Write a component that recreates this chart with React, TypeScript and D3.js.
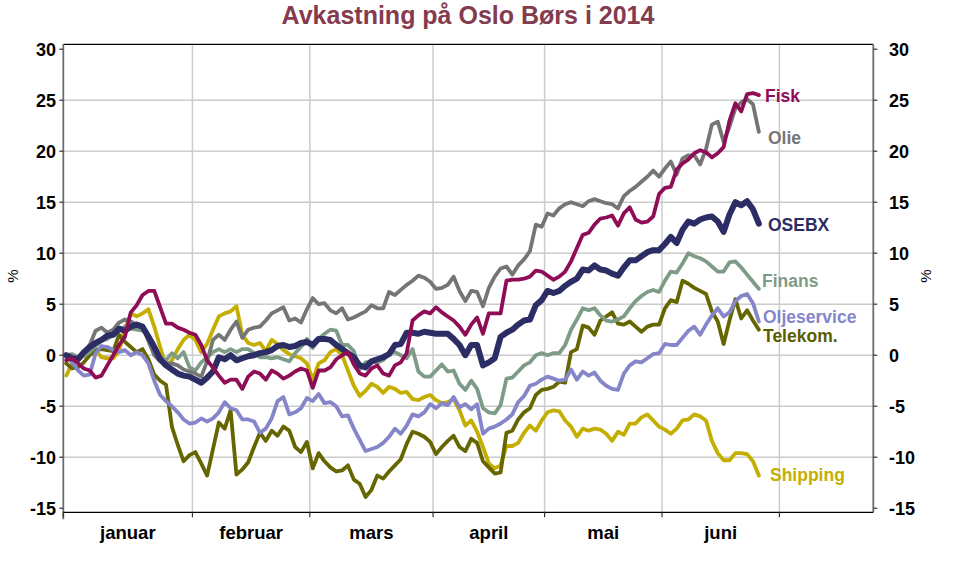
import React from 'react';
import * as d3 from 'd3';

// ---------- data ----------
const months = ['januar', 'februar', 'mars', 'april', 'mai', 'juni'];
const monthStarts = [0, 22, 42, 63, 82, 102, 122]; // trading-day index where each month starts
const totalSlots = 138;
const yTicks = [-15, -10, -5, 0, 5, 10, 15, 20, 25, 30];
const yGrid = [-10, -5, 0, 5, 10, 15, 20, 25];

const osebx = [0,-0.3,-0.4,0.3,0.8,1.2,1.5,1.9,2.0,2.6, 2.4,2.8,3.0,2.8,1.8,0.8,-0.4,-1.0,-1.4,-1.8, -2.0,-2.1,-2.4,-2.7,-2.2,-1.6,-0.2,-0.4,0.0,-0.5, -0.3,-0.1,0.0,0.2,0.3,0.5,0.9,1.0,0.8,0.9, 1.2,1.3,1.0,1.6,1.6,1.5,1.0,0.6,0.2,-0.2, -1.0,-1.2,-0.6,-0.4,-0.2,0.1,1.0,1.1,2.2,2.2, 2.1,2.3,2.2,2.1,2.1,2.1,1.6,1.0,0.0,1.0, 1.0,-1.0,-0.7,-0.3,1.8,2.2,2.5,3.0,3.4,3.5, 4.9,5.4,6.3,6.1,6.3,6.8,7.2,7.5,8.4,8.3, 8.8,8.4,8.3,8.0,7.8,8.6,9.3,9.3,9.7,10.1, 10.3,10.3,10.9,11.6,11.0,12.3,13.1,12.9,13.3,13.5, 13.6,13.1,12.1,13.8,15.0,14.7,15.1,14.3,12.9];
const fisk = [-0.5,-0.3,-0.8,-1.3,-1.5,-2.2,-2.0,-1.0,0.0,1.0, 1.8,4.2,4.9,5.9,6.3,6.3,4.7,3.1,3.1,2.7, 2.5,2.2,2.0,1.0,-0.5,-1.2,-2.0,-2.7,-2.4,-2.4, -3.3,-2.1,-1.6,-1.8,-2.4,-1.5,-1.8,-2.3,-2.0,-1.6, -1.3,-1.5,-3.2,-1.5,-1.5,-1.2,-0.4,0.0,0.3,-0.9, -1.8,-2.0,-1.3,-1.0,-1.8,-2.0,-1.0,-0.7,0.2,3.4, 3.9,4.3,4.1,4.7,4.2,3.8,3.4,2.8,2.0,3.0, 3.7,2.1,4.1,4.1,4.1,7.3,7.4,7.4,7.5,7.7, 8.3,8.2,7.8,7.4,7.7,8.2,9.2,10.5,11.8,12.0, 12.8,13.4,13.5,13.7,12.7,13.9,14.5,13.3,13.0,13.1, 13.6,15.8,16.4,16.5,18.2,18.8,19.2,19.8,20.1,19.9, 19.4,19.8,20.4,23.0,24.7,23.9,25.6,25.7,25.5];
const olie = [0,-0.3,-0.2,0.3,1.0,2.4,2.7,2.2,2.5,3.2, 3.5,3.3,3.0,2.8,1.4,0.0,-0.6,-0.8,-0.8,-1.0, -1.4,-1.6,-1.8,-2.1,-0.6,1.5,2.0,1.5,2.5,3.3, 1.7,2.5,2.7,2.8,3.4,4.1,4.4,4.7,3.4,3.6, 3.2,4.5,5.6,5.0,5.1,4.4,4.1,4.6,3.5,3.7, 4.0,4.3,4.9,4.6,4.6,6.2,5.9,6.4,6.9,7.3, 7.8,7.6,7.2,6.5,6.6,6.9,7.7,6.3,5.3,6.3, 6.2,4.8,6.6,7.7,8.5,8.7,7.9,8.8,9.4,10.2, 12.8,12.6,13.9,13.7,14.4,14.8,15.0,14.8,14.6,15.1, 15.3,15.1,14.9,14.8,14.4,15.6,16.1,16.5,17.0,17.5, 18.1,17.5,18.3,19.0,17.7,19.3,19.6,19.6,18.7,20.2, 22.6,22.9,20.9,22.4,24.2,24.8,25.1,24.6,21.9];
const finans = [0,0.1,-0.2,-0.1,0.3,0.9,1.4,1.6,2.0,2.4, 2.8,2.6,2.5,2.4,2.0,1.0,-0.2,-0.5,0.2,-0.3, 0.3,-1.2,-1.5,-0.7,-0.2,0.3,0.6,0.3,0.6,0.3, 0.6,0.6,0.2,-0.2,-0.2,-0.3,-0.2,-0.4,-0.6,0.2, 0.8,1.6,0.7,1.6,2.1,2.5,2.4,1.0,1.0,0.4, -1.4,-0.7,-0.6,-0.7,-0.5,0.2,0.3,0.0,-0.3,0.6, -1.6,-2.1,-2.1,-1.5,-0.9,-1.6,-1.5,-2.8,-3.4,-2.5, -3.3,-5.2,-5.6,-5.7,-4.9,-2.3,-2.2,-1.6,-1.0,-0.7, 0.0,0.2,0.0,0.2,0.2,1.0,2.5,3.5,4.6,4.4, 4.6,3.9,3.4,3.3,3.5,3.8,4.6,5.3,5.8,6.2, 6.4,6.2,7.3,8.2,8.1,9.0,10.0,9.7,9.5,9.2, 8.7,8.2,8.2,9.1,9.2,8.6,7.9,7.2,6.5];
const oljeservice = [-0.2,-0.7,-1.5,-2.0,-1.9,0.2,0.9,0.8,0.5,0.3, 0.5,0.0,0.3,0.0,-0.8,-2.5,-3.9,-4.5,-5.0,-5.6, -6.3,-6.7,-6.6,-6.2,-6.5,-6.2,-5.6,-4.6,-5.2,-5.4, -6.3,-6.3,-6.5,-7.6,-7.2,-6.2,-4.5,-4.1,-5.8,-5.6, -5.2,-4.2,-4.5,-3.8,-4.7,-4.6,-5.0,-6.0,-5.9,-7.2, -8.3,-9.4,-9.2,-9.0,-8.6,-8.0,-7.2,-7.7,-6.9,-5.8, -6.0,-5.6,-4.8,-5.2,-4.7,-4.9,-4.1,-5.1,-4.8,-5.3, -4.8,-7.7,-7.2,-7.0,-6.7,-6.3,-5.8,-4.6,-4.0,-3.0, -2.8,-2.4,-2.1,-2.3,-2.5,-2.4,-1.4,-2.4,-1.6,-2.0, -1.7,-2.5,-3.0,-3.3,-3.4,-1.8,-1.0,-0.6,-0.7,-0.3, 0.1,0.2,1.1,1.0,1.0,1.7,2.4,2.8,2.0,3.0, 3.9,4.6,3.8,4.2,5.3,5.8,6.0,5.1,3.3];
const telekom = [-0.8,-1.3,-1.2,-0.7,0.0,0.5,0.6,0.5,0.4,2.0, 1.3,0.8,0.3,0.6,-0.4,-1.9,-2.5,-2.9,-7.0,-8.8, -10.4,-9.8,-9.5,-10.6,-11.8,-9.2,-6.6,-7.2,-5.4,-11.7, -11.2,-10.5,-9.0,-7.6,-8.4,-7.4,-7.9,-7.0,-7.4,-9.0, -9.5,-8.5,-11.1,-9.6,-10.4,-11.0,-11.4,-11.3,-10.8,-12.2, -12.6,-13.9,-13.2,-11.8,-12.1,-11.4,-10.8,-10.2,-8.7,-7.5, -7.7,-8.0,-8.5,-9.7,-9.0,-8.4,-7.9,-9.0,-9.4,-8.2, -8.6,-10.4,-11.0,-11.6,-11.5,-7.6,-7.4,-6.3,-5.6,-5.2, -3.9,-3.4,-3.3,-3.1,-2.6,-2.7,0.3,0.6,2.9,2.7, 2.0,3.4,3.8,4.2,3.1,3.0,3.3,2.8,2.3,2.8, 3.0,3.0,4.6,5.4,5.2,7.3,7.0,6.6,6.3,6.0, 4.3,3.3,1.1,3.4,5.5,3.6,4.4,3.4,2.5];
const shipping = [-2.0,-0.8,-0.5,0.0,1.0,0.5,-0.2,-0.3,-0.3,0.4, 2.6,4.1,3.8,4.1,4.5,2.8,0.8,-1.1,-0.5,0.6, 1.5,2.0,1.5,0.3,1.1,2.5,3.8,4.1,4.3,4.8, 2.0,1.2,1.0,1.2,0.4,1.5,1.1,0.5,0.1,-0.1, -0.3,-0.8,-2.4,-0.8,-0.5,0.3,0.6,0.0,-1.5,-3.0, -4.0,-3.5,-2.8,-3.1,-3.7,-3.1,-3.3,-3.7,-3.6,-4.3, -4.4,-4.1,-3.9,-4.4,-4.7,-4.6,-4.3,-5.4,-6.9,-6.4, -7.5,-9.0,-10.6,-11.1,-10.8,-8.9,-8.9,-8.6,-7.6,-6.9, -7.4,-6.4,-5.6,-5.4,-5.5,-6.4,-7.0,-8.0,-7.2,-7.4, -7.2,-7.3,-7.7,-8.4,-7.5,-7.8,-6.7,-6.7,-6.1,-5.8, -6.4,-7.0,-7.3,-7.7,-7.2,-6.4,-6.3,-5.8,-6.0,-6.4, -8.4,-9.6,-10.3,-10.3,-9.6,-9.6,-9.7,-10.4,-11.8];

const seriesNames = ['Shipping', 'Telekom.', 'Oljeservice', 'Finans', 'Olie', 'OSEBX', 'Fisk'];
const seriesValues = [shipping, telekom, oljeservice, finans, olie, osebx, fisk];
// value at which each end label is centred
const labelValues = [-11.7, 1.9, 3.8, 7.3, 21.3, 12.8, 25.4];

// ---------- styles ----------
const styles = [
  { color: '#C4AE00', label: '#C4AE00', width: 3.8, lx: 770 },
  { color: '#666600', label: '#5C5C00', width: 3.8, lx: 763 },
  { color: '#8585C9', label: '#8585C9', width: 3.8, lx: 763 },
  { color: '#7E9B88', label: '#7E9B88', width: 3.8, lx: 762 },
  { color: '#757575', label: '#757575', width: 3.8, lx: 768 },
  { color: '#2B2D64', label: '#2B2D64', width: 6, lx: 768 },
  { color: '#8E0D56', label: '#8E0D56', width: 3.8, lx: 765 },
];

const FONT = '"Liberation Sans", Arial, Helvetica, sans-serif';
const L = 63.3, R = 873.3, T = 44.3, B = 512.3;

export default function App() {
  const x = d3.scaleLinear().domain([0, totalSlots]).range([L, R]);
  const y = d3.scaleLinear().domain([-15, 30]).range([508.2, 49.2]);
  const line = d3
    .line<number>()
    .x((_, i) => x(i + 0.5))
    .y((v) => y(v));

  return (
    <svg
      width={961}
      height={572}
      viewBox="0 0 961 572"
      style={{ position: 'absolute', left: 0, top: 0, background: '#fff', fontFamily: FONT }}
    >
      <rect x={0} y={0} width={961} height={572} fill="#fff" />
      {/* title */}
      <text x={468} y={24} textAnchor="middle" fontSize={25} fontWeight="bold" fill="#833B4D">
        Avkastning på Oslo Børs i 2014
      </text>

      {/* grid */}
      {yGrid.map((t) => (
        <line key={'gy' + t} x1={L} x2={R} y1={y(t)} y2={y(t)} stroke="#CCCCCC" strokeWidth={1.5} />
      ))}
      {monthStarts.slice(1).map((m) => (
        <line key={'gx' + m} x1={x(m)} x2={x(m)} y1={T} y2={B} stroke="#CCCCCC" strokeWidth={1.5} />
      ))}

      {/* frame */}
      <line x1={L} x2={R} y1={T} y2={T} stroke="#000" strokeWidth={1.3} />
      <line x1={L} x2={L} y1={T} y2={B + 7} stroke="#6E6E6E" strokeWidth={1.8} />
      <line x1={R} x2={R} y1={T} y2={B} stroke="#6E6E6E" strokeWidth={1.8} />
      <line x1={L} x2={R} y1={B} y2={B} stroke="#000" strokeWidth={1.3} />

      {/* y ticks & labels */}
      {yTicks.map((t) => (
        <g key={'yt' + t}>
          <line x1={L - 4} x2={L} y1={y(t)} y2={y(t)} stroke="#333" strokeWidth={1.2} />
          <line x1={R} x2={R + 4} y1={y(t)} y2={y(t)} stroke="#333" strokeWidth={1.2} />
          <text x={56} y={y(t)} dy="0.36em" textAnchor="end" fontSize={18} fontWeight="bold" fill="#000">
            {t}
          </text>
          <text x={889} y={y(t)} dy="0.36em" textAnchor="start" fontSize={18} fontWeight="bold" fill="#000">
            {t}
          </text>
        </g>
      ))}

      {/* % axis titles */}
      <text transform="translate(18,276) rotate(-90)" textAnchor="middle" fontSize={15} fill="#000">%</text>
      <text transform="translate(931,276) rotate(-90)" textAnchor="middle" fontSize={15} fill="#000">%</text>

      {/* x ticks & month labels */}
      {monthStarts.map((m) => (
        <line key={'xt' + m} x1={x(m)} x2={x(m)} y1={B} y2={B + 5} stroke="#333" strokeWidth={1.2} />
      ))}
      {months.map((name, i) => (
        <text
          key={name}
          x={(x(monthStarts[i]) + x(monthStarts[i + 1])) / 2}
          y={539}
          textAnchor="middle"
          fontSize={18.5}
          fontWeight="bold"
          fill="#000"
        >
          {name}
        </text>
      ))}

      {/* series */}
      {seriesValues.map((vals, k) => (
        <path
          key={seriesNames[k]}
          d={line(vals) || ''}
          fill="none"
          stroke={styles[k].color}
          strokeWidth={styles[k].width}
          strokeLinejoin="round"
          strokeLinecap="round"
        />
      ))}

      {/* end labels */}
      {seriesNames.map((n, k) => (
        <text
          key={'lab' + n}
          x={styles[k].lx}
          y={y(labelValues[k])}
          dy="0.36em"
          fontSize={17.5}
          fontWeight="bold"
          fill={styles[k].label}
        >
          {n}
        </text>
      ))}
    </svg>
  );
}
